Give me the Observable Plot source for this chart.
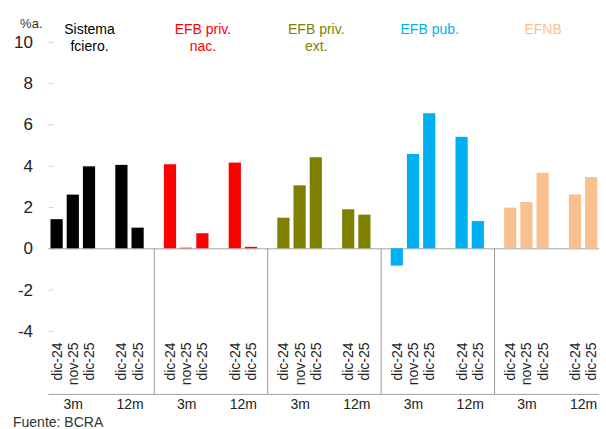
<!DOCTYPE html>
<html><head><meta charset="utf-8">
<script src="https://cdn.jsdelivr.net/npm/d3@7"></script>
<script src="https://cdn.jsdelivr.net/npm/@observablehq/plot@0.6"></script>
<style>
body{margin:0;background:#fff;font-family:"Liberation Sans",Arial,sans-serif}
#cap{font-size:14px;line-height:17px;color:#333;padding-left:13px;padding-top:2px;white-space:nowrap}
</style>
</head><body><div id="chart"></div><div id="cap">Fuente: BCRA</div>
<script>
// ---- data ----
const groups = ["Sistema\nfciero.", "EFB priv.\nnac.", "EFB priv.\next.", "EFB pub.", "EFNB"];
const colors = ["#000000", "#ff0000", "#7f7f00", "#00b0f0", "#fac090"];
const periods = ["dic-24", "nov-25", "dic-25", "dic-24", "dic-25"];
const horizons = ["3m", "12m"];
const sistema = [1.41, 2.60, 3.97, 4.04, 1.00];
const privNac = [4.07, 0.03, 0.73, 4.15, 0.07];
const privExt = [1.48, 3.05, 4.41, 1.89, 1.63];
const pub     = [-0.84, 4.57, 6.54, 5.40, 1.32];
const efnb    = [1.97, 2.24, 3.65, 2.61, 3.45];
const yTicks  = [-4, -2, 0, 2, 4, 6, 8, 10];

// ---- build table ----
const series = [sistema, privNac, privExt, pub, efnb];
const domain = [];
const rows = [];
groups.forEach((g, gi) => {
  if (gi > 0) domain.push(`${gi}-sep`);
  periods.forEach((p, pi) => {
    if (pi === 3) domain.push(`${gi}-gap`);
    const key = `${gi}-${pi}`;
    domain.push(key);
    rows.push({key, value: series[gi][pi], color: colors[gi]});
  });
});
const sepKeys = groups.slice(1).map((g, i) => `${i + 1}-sep`);
const tickFormat = d => { const p = d.split("-")[1]; return isNaN(+p) ? "" : periods[+p]; };
const h3 = groups.map((g, gi) => ({key: `${gi}-1`, label: horizons[0]}));
const h12 = groups.map((g, gi) => ({key: `${gi}-3`, label: horizons[1]}));

const chart = Plot.plot({
  width: 606, height: 412,
  marginLeft: 48.5, marginRight: 6.7, marginTop: 41.8, marginBottom: 81.1,
  style: {fontFamily: "'Liberation Sans', Arial, sans-serif", fontSize: "14px", color: "#222", background: "#fff", overflow: "visible"},
  x: {type: "band", domain, padding: 0, round: false, axis: null},
  y: {domain: [-4, 10], axis: null},
  color: {type: "identity"},
  marks: [
    Plot.axisY({ticks: yTicks, tickFormat: d => String(d), tickSize: 5, dx: 5, tickPadding: 16, stroke: "#d4d4d4", fill: "#222", fontSize: 17, label: null}),
    Plot.text(["%a."], {frameAnchor: "top-left", textAnchor: "end", dx: -6.5, dy: -24, fontSize: 13, fill: "#333"}),
    Plot.ruleY([0], {stroke: "#a6a6a6"}),
    Plot.barY(rows, {x: "key", y: "value", fill: "color", insetLeft: 2, insetRight: 2}),
    Plot.axisX({tickRotate: -90, tickSize: 0, tickPadding: 11, tickFormat, fontSize: 14, fill: "#222", label: null}),
    Plot.ruleX(sepKeys, {x: d => d, y1: 0, y2: -4, insetBottom: -63, stroke: "#9a9a9a"}),
    Plot.ruleY([-4], {dy: 63, stroke: "#a0a0a0"}),
    Plot.text(h3, {x: "key", text: "label", frameAnchor: "bottom", dy: 78, fontSize: 14, fill: "#222"}),
    Plot.text(h12, {x: "key", text: "label", frameAnchor: "bottom", dy: 78, dx: 8.1, fontSize: 14, fill: "#222"}),
    Plot.text(groups, {x: (d, i) => `${i}-2`, text: d => d, fill: (d, i) => colors[i], frameAnchor: "top", lineAnchor: "top", dy: -20, lineHeight: 1.2, fontSize: 14})
  ]
});
document.getElementById("chart").appendChild(chart);
</script>
</body></html>
